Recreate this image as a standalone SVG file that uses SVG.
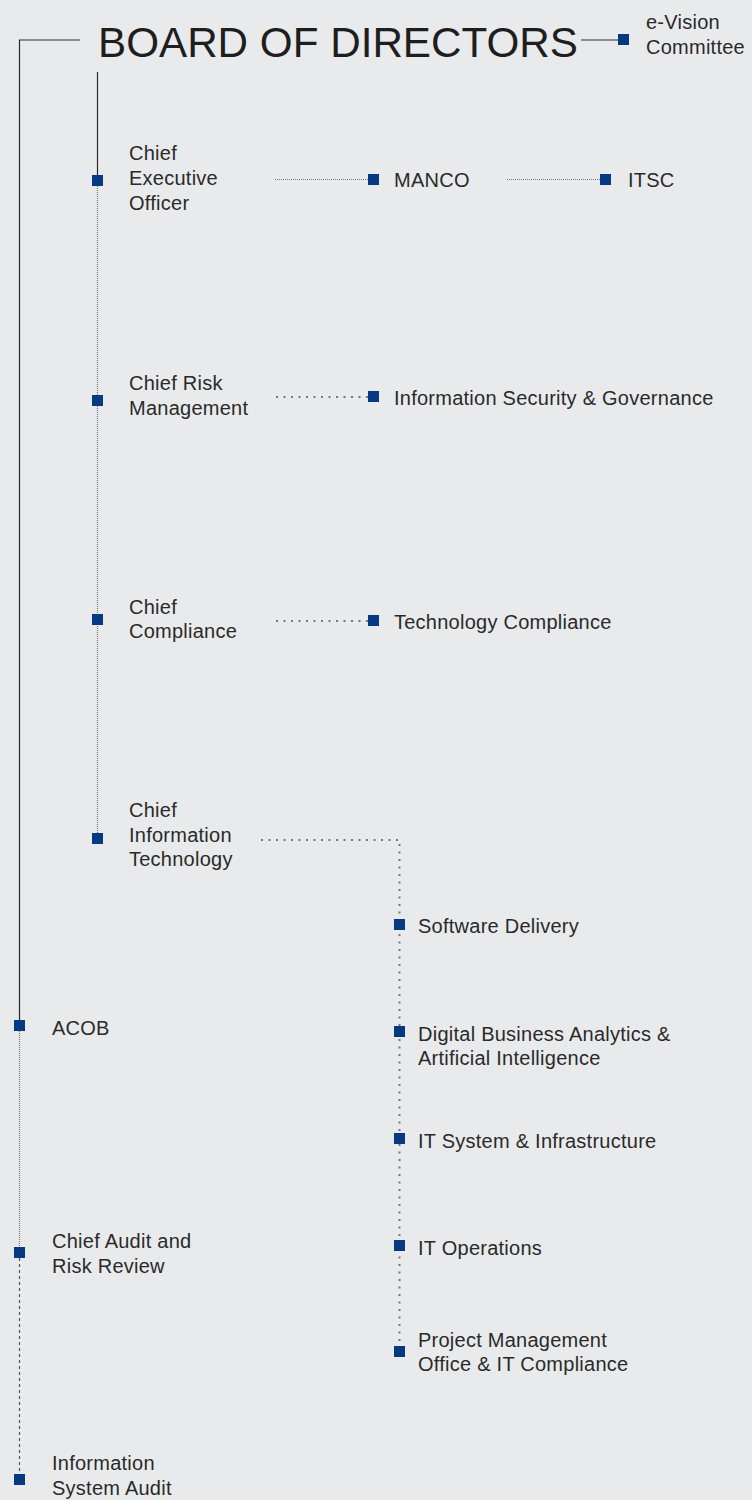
<svg xmlns="http://www.w3.org/2000/svg" width="752" height="1500" viewBox="0 0 752 1500">
<defs>
<style>
.t{font-family:"Liberation Sans",Arial,sans-serif;font-size:20px;fill:#2a2a2a;letter-spacing:0.25px}
.big{font-family:"Liberation Sans",Arial,sans-serif;font-size:43px;fill:#1e1e1e}
.sq{fill:#053a82}
.solid{stroke:#2a2a2a;stroke-width:1.2;fill:none}
.fine{stroke:#777;stroke-width:1.2;stroke-dasharray:1 1;fill:none}
.dot{stroke:#777;stroke-width:2;stroke-dasharray:2 5.5;fill:none}
.dash{stroke:#555;stroke-width:1.2;stroke-dasharray:3 3;fill:none}
</style>
</defs>
<rect width="752" height="1500" fill="#e9eaec"/>
<g id="connectors">
<path class="solid" d="M80 40 H19.5 V1025"/>
<path class="fine" d="M19.5 1031 V1248"/>
<path class="dash" d="M19.5 1258 V1474"/>
<path class="solid" d="M97.5 72 V175"/>
<path class="fine" d="M97.5 186 V833"/>
<path class="solid" d="M581 40 H618"/>
<path class="fine" d="M275 179.5 H368"/>
<path class="fine" d="M507 179.5 H600"/>
<path class="dot" d="M276 397 H368"/>
<path class="dot" d="M276 621 H368"/>
<path class="dot" d="M261 840 H399.5 V1346"/>
</g>
<g id="board"><text class="big" x="98" y="57" textLength="480" lengthAdjust="spacingAndGlyphs">BOARD OF DIRECTORS</text></g>
<g id="evision"><rect class="sq" x="618" y="34" width="11" height="11"/><text class="t" x="646" y="29">e-Vision</text><text class="t" x="646" y="54">Committee</text></g>
<g id="ceo"><rect class="sq" x="92" y="175" width="11" height="11"/><text class="t" x="129" y="160">Chief</text><text class="t" x="129" y="185">Executive</text><text class="t" x="129" y="210">Officer</text></g>
<g id="manco"><rect class="sq" x="368" y="174" width="11" height="11"/><text class="t" x="394" y="187">MANCO</text></g>
<g id="itsc"><rect class="sq" x="600" y="174" width="11" height="11"/><text class="t" x="628" y="187">ITSC</text></g>
<g id="crm"><rect class="sq" x="92" y="395" width="11" height="11"/><text class="t" x="129" y="390">Chief Risk</text><text class="t" x="129" y="415">Management</text></g>
<g id="isg"><rect class="sq" x="368" y="391" width="11" height="11"/><text class="t" x="394" y="405">Information Security &amp; Governance</text></g>
<g id="cc"><rect class="sq" x="92" y="614" width="11" height="11"/><text class="t" x="129" y="614">Chief</text><text class="t" x="129" y="638">Compliance</text></g>
<g id="tc"><rect class="sq" x="368" y="615" width="11" height="11"/><text class="t" x="394" y="629">Technology Compliance</text></g>
<g id="cit"><rect class="sq" x="92" y="833" width="11" height="11"/><text class="t" x="129" y="817">Chief</text><text class="t" x="129" y="842">Information</text><text class="t" x="129" y="866">Technology</text></g>
<g id="sd"><rect class="sq" x="394" y="919" width="11" height="11"/><text class="t" x="418" y="933">Software Delivery</text></g>
<g id="dba"><rect class="sq" x="394" y="1026" width="11" height="11"/><text class="t" x="418" y="1041">Digital Business Analytics &amp;</text><text class="t" x="418" y="1065">Artificial Intelligence</text></g>
<g id="itsi"><rect class="sq" x="394" y="1133" width="11" height="11"/><text class="t" x="418" y="1148">IT System &amp; Infrastructure</text></g>
<g id="ito"><rect class="sq" x="394" y="1240" width="11" height="11"/><text class="t" x="418" y="1255">IT Operations</text></g>
<g id="pmo"><rect class="sq" x="394" y="1346" width="11" height="11"/><text class="t" x="418" y="1347">Project Management</text><text class="t" x="418" y="1371">Office &amp; IT Compliance</text></g>
<g id="acob"><rect class="sq" x="14" y="1020" width="11" height="11"/><text class="t" x="52" y="1035">ACOB</text></g>
<g id="carr"><rect class="sq" x="14" y="1247" width="11" height="11"/><text class="t" x="52" y="1248">Chief Audit and</text><text class="t" x="52" y="1273">Risk Review</text></g>
<g id="isa"><rect class="sq" x="14" y="1474" width="11" height="11"/><text class="t" x="52" y="1470">Information</text><text class="t" x="52" y="1495">System Audit</text></g>
</svg>
